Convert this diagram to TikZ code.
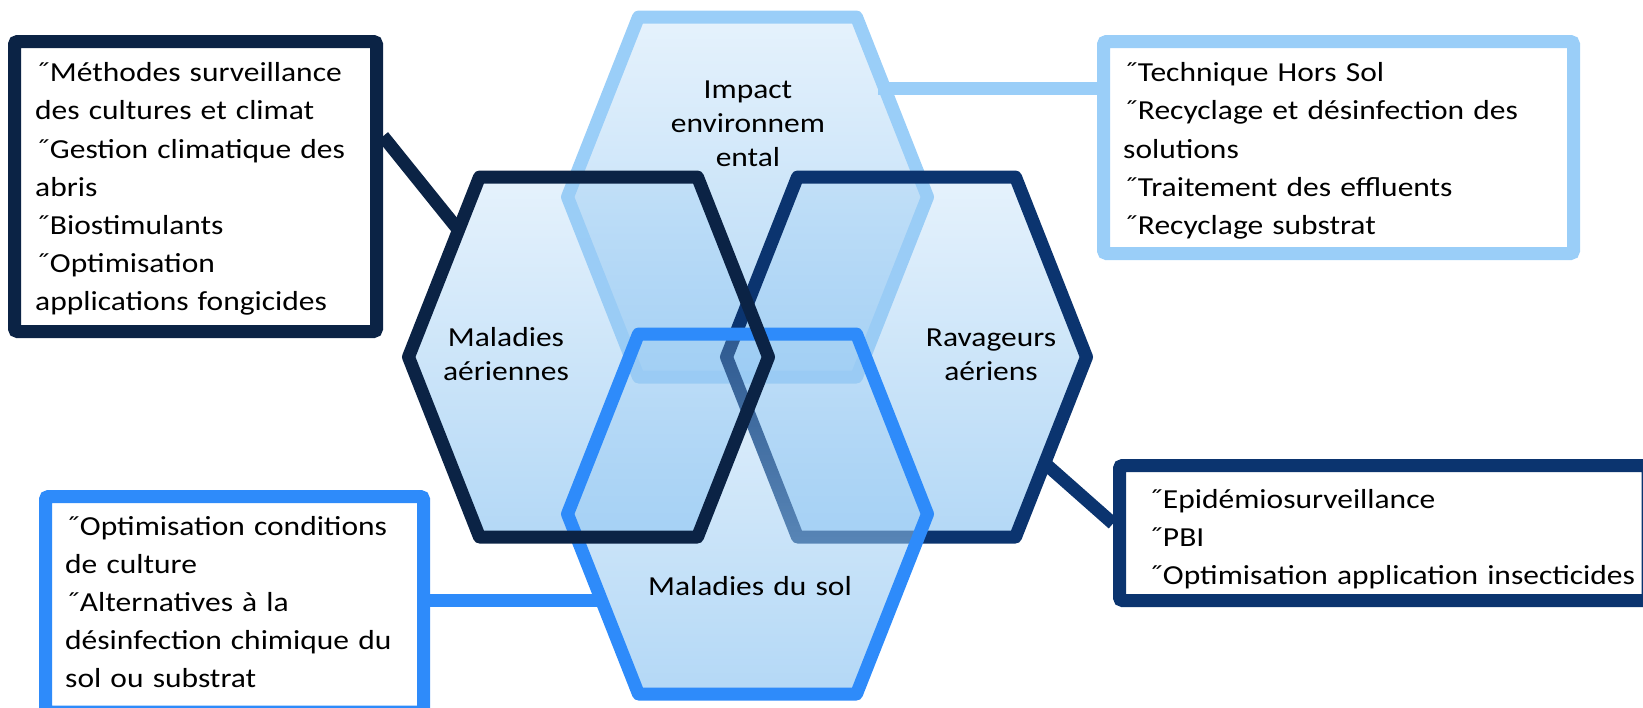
\documentclass[tikz,border=0pt]{standalone}
\usepackage{fontspec}
\setmainfont{Carlito}[FakeStretch=1.145]
\usetikzlibrary{calc,fadings}

\definecolor{navyA}{HTML}{0B2345}
\definecolor{navyB}{HTML}{0B346F}
\definecolor{soilblue}{HTML}{2E8BFA}
\definecolor{skyblue}{HTML}{9ACEF8}
\definecolor{hexblue}{HTML}{9ACBF3}

\tikzfading[name=hexfade, top color=transparent!75, bottom color=transparent!25]

\tikzset{
  hexback/.style={fill=hexblue, path fading=hexfade},
  hexrim/.style={draw=#1, line width=13pt, line join=round},
  infobox/.style={draw=#1, fill=white, line width=13pt, rounded corners=3pt, inner sep=0pt},
  infotext/.style={anchor=base west, inner sep=0pt, text width=#1, align=left, font=\fontsize{27.5}{38.2}\selectfont},
  hexlabel/.style={anchor=base, inner sep=0pt, text width=260pt, align=center, font=\fontsize{27.5}{34.2}\selectfont},
  link/.style={draw=#1, line width=13pt},
}
\newcommand{\hexshape}{(-180,0) -- (-109,-180) -- (109,-180) -- (180,0) -- (109,180) -- (-109,180) -- cycle}

\begin{document}
\begin{tikzpicture}[x=1pt, y=-1pt]
\useasboundingbox (0,0) rectangle (1643,707);
% hexagon centres
\coordinate (hexT) at (747.5,197);
\coordinate (hexL) at (588.5,357);
\coordinate (hexR) at (906.5,357);
\coordinate (hexB) at (747.5,514);

% hexagons, back to front
\fill[hexback, shift={(hexT)}] \hexshape;
\draw[hexrim=skyblue, shift={(hexT)}] \hexshape;
\fill[hexback, shift={(hexL)}] \hexshape;
\fill[hexback, shift={(hexR)}] \hexshape;
\draw[hexrim=navyB, shift={(hexR)}] \hexshape;
\fill[hexback, shift={(hexB)}] \hexshape;
\draw[hexrim=soilblue, shift={(hexB)}] \hexshape;
\draw[hexrim=navyA, shift={(hexL)}] \hexshape;

\node[hexlabel] (lblT) at (748,98) {Impact\\environnem\\ental};
\node[hexlabel] (lblL) at (506,346) {Maladies\\aériennes};
\node[hexlabel] (lblR) at (991,346) {Ravageurs\\aériens};
\node[hexlabel] (lblB) at (750,595) {Maladies du sol};

% where the links meet the hexagons
\coordinate (pL) at ($(hexL)+(-130,-127)$);
\coordinate (pT) at ($(hexT)+(130,-109)$);
\coordinate (pR) at ($(hexR)+(138,106)$);
\coordinate (pB) at ($(hexB)+(-146,86)$);

% boxes
\node[infobox=navyA, minimum width=362pt, minimum height=290pt] (box1) at (195.5,186.5) {};
\node[infobox=skyblue, minimum width=470pt, minimum height=212pt] (box2) at (1338.5,147.5) {};
\node[infobox=navyB, minimum width=528.5pt, minimum height=135pt] (box3) at (1383.75,533) {};
\node[infobox=soilblue, minimum width=378pt, minimum height=215.5pt] (box4) at (234.5,604.25) {};

\draw[link=navyA] (box1.15) -- (pL);
\draw[link=skyblue] (pT) -- (pT -| box2.west);
\draw[link=navyB] (pR) -- (box3.178);
\draw[link=soilblue] (pB) -- (pB -| box4.east);

\node[infotext=330pt] (t1) at (35,81.7) {˝Méthodes surveillance\\des cultures et climat\\˝Gestion climatique des\\abris\\˝Biostimulants\\˝Optimisation\\applications fongicides};
\node[infotext=440pt] (t2) at (1123,81.7) {˝Technique Hors Sol\\˝Recyclage et désinfection des\\solutions\\˝Traitement des effluents\\˝Recyclage substrat};
\node[infotext=520pt] (t3) at (1148,508.3) {˝Epidémiosurveillance\\˝PBI\\˝Optimisation application insecticides};
\node[infotext=360pt] (t4) at (65,535) {˝Optimisation conditions\\de culture\\˝Alternatives à la\\désinfection chimique du\\sol ou substrat};
\end{tikzpicture}
\end{document}
